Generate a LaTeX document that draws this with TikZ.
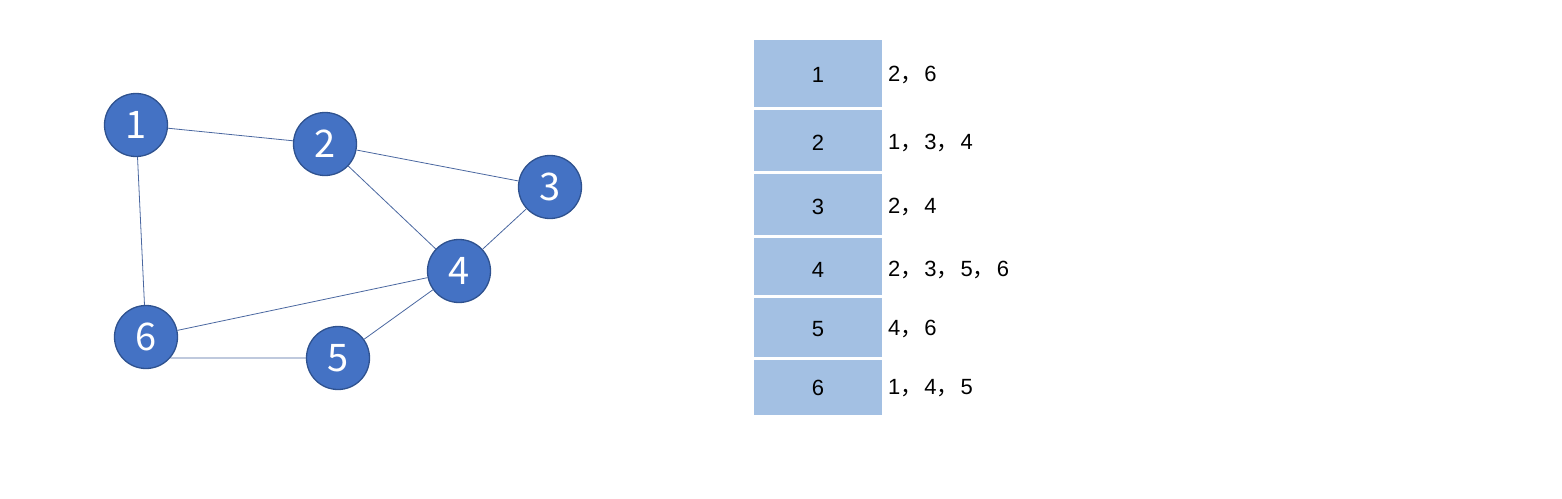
\documentclass[tikz,border=0pt]{standalone}
\usepackage{fontspec}
\setmainfont{Liberation Sans}
\newfontfamily\cjk{Noto Sans CJK SC}
\newcommand{\cm}{{\cjk ，}\hspace{2pt}}
\definecolor{nodefill}{HTML}{4472C4}
\definecolor{nodeline}{HTML}{2F528F}
\definecolor{edgecol}{HTML}{4A67A0}
\definecolor{cellfill}{HTML}{A3C0E3}
\tikzset{
  gnode/.style={circle, fill=nodefill, draw=nodeline, line width=1.3pt, minimum size=63pt, inner sep=0pt, text=white, font=\cjk\fontsize{38}{40}\selectfont},
  gedge/.style={draw=edgecol, line width=0.8pt},
  cell/.style={fill=cellfill},
  celltext/.style={font=\fontsize{22}{24}\selectfont, text=black},
  adjtext/.style={font=\fontsize{22}{24}\selectfont, text=black, anchor=west, inner sep=0pt}
}
\begin{document}
\begin{tikzpicture}[x=1pt,y=-1pt]
\useasboundingbox (0,0) rectangle (1562,498);
% graph
\node[gnode] (n1) at (136,125) {1};
\node[gnode] (n2) at (325,144) {2};
\node[gnode] (n3) at (550,187) {3};
\node[gnode] (n4) at (459,271) {4};
\node[gnode] (n5) at (338,358) {5};
\node[gnode] (n6) at (146,337) {6};
\draw[gedge] (n1) -- (n2);
\draw[gedge] (n1) -- (n6);
\draw[gedge] (n2) -- (n3);
\draw[gedge] (n2) -- (n4);
\draw[gedge] (n3) -- (n4);
\draw[gedge] (n4) -- (n6);
\draw[gedge] (n4) -- (n5);
\draw[gedge] (n6.-41) -- (n5.180);
% table
\fill[cell] (754,40) rectangle (882,107);
\fill[cell] (754,110) rectangle (882,171);
\fill[cell] (754,174) rectangle (882,235);
\fill[cell] (754,238) rectangle (882,295);
\fill[cell] (754,298) rectangle (882,357);
\fill[cell] (754,360) rectangle (882,415);
\node[celltext] (c1) at (818,75) {1};
\node[celltext] (c2) at (818,143) {2};
\node[celltext] (c3) at (818,207) {3};
\node[celltext] (c4) at (818,270) {4};
\node[celltext] (c5) at (818,329) {5};
\node[celltext] (c6) at (818,388) {6};
\node[adjtext] (a1) at (888,75) {2\cm 6};
\node[adjtext] (a2) at (888,143) {1\cm 3\cm 4};
\node[adjtext] (a3) at (888,207) {2\cm 4};
\node[adjtext] (a4) at (888,270) {2\cm 3\cm 5\cm 6};
\node[adjtext] (a5) at (888,329) {4\cm 6};
\node[adjtext] (a6) at (888,388) {1\cm 4\cm 5};
\end{tikzpicture}
\end{document}
